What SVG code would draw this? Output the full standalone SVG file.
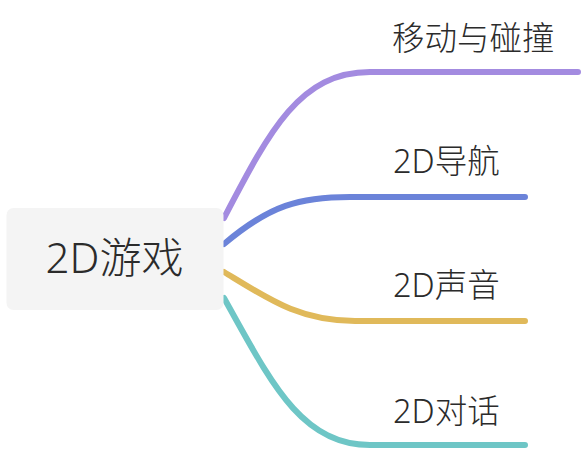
<svg xmlns="http://www.w3.org/2000/svg" width="585" height="451" viewBox="0 0 585 451">
<style>
.t{font-family:"Noto Sans","Noto Sans CJK SC",sans-serif;fill:#2b2b2b;font-weight:300}
.c{font-size:32.5px}
.r{font-size:42px}
.l{fill:none;stroke-width:6;stroke-linecap:round}
</style>
<rect width="585" height="451" fill="#ffffff"/>
<g id="connectors">
<path class="l" stroke="#a38be0" d="M224,218 C270,130 300,72 370,72 L578,72"/>
<path class="l" stroke="#6b83d9" d="M224,244 C270,205 300,197 350,197 L525,197"/>
<path class="l" stroke="#e0b95a" d="M224,272 C270,300 300,321 355,321 L525,321"/>
<path class="l" stroke="#6ec6c6" d="M224,298 C270,380 300,445 370,445 L525,445"/>
</g>
<g id="root">
<rect x="6.5" y="208" width="217" height="102" rx="7" fill="#f4f4f4"/>
<text class="t r" x="114.5" y="273" text-anchor="middle">2D游戏</text>
</g>
<g id="n1"><text class="t c" x="392" y="50">移动与碰撞</text></g>
<g id="n2"><text class="t c" x="393" y="173">2D导航</text></g>
<g id="n3"><text class="t c" x="393" y="297">2D声音</text></g>
<g id="n4"><text class="t c" x="393" y="423">2D对话</text></g>
</svg>
